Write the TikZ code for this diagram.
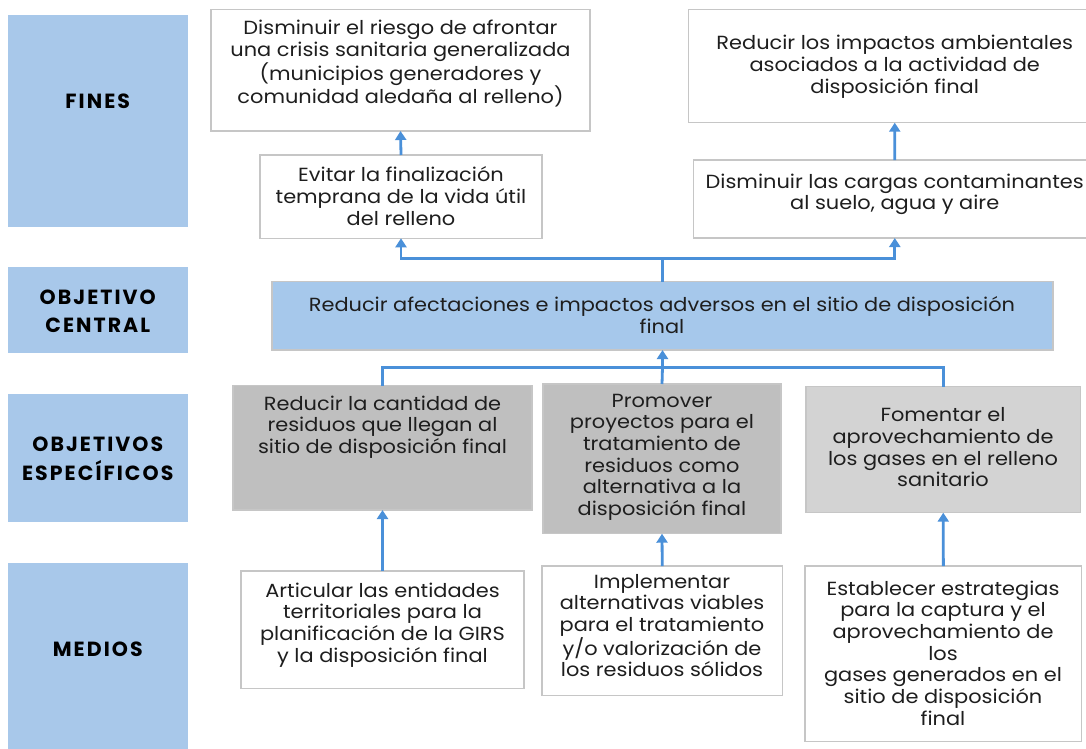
\documentclass[tikz,border=0pt]{standalone}
\usepackage{fontspec}
\setmainfont{Poppins}[FakeStretch=1.1]
\newfontfamily\labelfont{Poppins}[LetterSpace=10]
\usetikzlibrary{arrows.meta}
\definecolor{lblue}{HTML}{A8C8EA}
\definecolor{cblue}{HTML}{A6C8EB}
\definecolor{lineblue}{HTML}{4A90D9}
\definecolor{bordergray}{HTML}{C6C6C6}
\definecolor{gdark}{HTML}{BFBFBF}
\definecolor{glight}{HTML}{D3D3D3}
\definecolor{txtc}{HTML}{1E1E1E}
\tikzset{
  every node/.style={inner sep=0pt, outer sep=0pt},
  lbox/.style={fill=lblue, anchor=north west},
  wbox/.style={draw=bordergray, line width=1.2pt, fill=white, anchor=north west},
  cbox/.style={draw=bordergray, line width=1.2pt, fill=cblue, anchor=north west},
  dbox/.style={draw=bordergray, line width=1.2pt, fill=gdark, anchor=north west},
  ebox/.style={draw=bordergray, line width=1.2pt, fill=glight, anchor=north west},
  txt/.style={align=center, anchor=north, text=txtc, font=\fontsize{19}{21.7}\selectfont},
  lbl/.style={align=center, anchor=north, text=black, font=\labelfont\bfseries\fontsize{20.5}{28.5}\selectfont},
  conn/.style={draw=lineblue, line width=2.8pt},
  arr/.style={conn, -{Triangle[width=11pt,length=9pt]}},
}
\begin{document}
\begin{tikzpicture}[x=1pt, y=-1pt]
\useasboundingbox (0,0) rectangle (1086,748);
\clip (0,0) rectangle (1086,748);
\fill[white] (0,0) rectangle (1086,748);

% left labels
\node[lbox, minimum width=179.5, minimum height=212] (lF) at (8,15) {};
\node[lbox, minimum width=179.5, minimum height=86] (lC) at (8,267.3) {};
\node[lbox, minimum width=179.5, minimum height=127.4] (lS) at (8,394.3) {};
\node[lbox, minimum width=179.5, minimum height=200] (lM) at (8,562.7) {};
\node[lbl] (lFt) at (97.75,88.35) {\strut FINES\strut};
\node[lbl] (lCt) at (97.75,284.05) {\strut OBJETIVO\\CENTRAL\strut};
\node[lbl] (lSt) at (97.75,431.05) {\strut OBJETIVOS\\ESPECÍFICOS\strut};
\node[lbl] (lMt) at (97.75,636.05) {\strut MEDIOS\strut};

% fines
\node[wbox, minimum width=379, minimum height=121.7] (fA) at (211,9.3) {};
\node[wbox, minimum width=412.5, minimum height=113.4] (fB) at (688.5,9.3) {};
\node[wbox, minimum width=282, minimum height=83.3] (mF1) at (260,155) {};
\node[wbox, minimum width=402.4, minimum height=78] (mF2) at (693.6,160) {};
\node[txt] (fAt) at (400.5,19.3) {\strut Disminuir el riesgo de afrontar\\una crisis sanitaria generalizada\\(municipios generadores y\\comunidad aledaña al relleno)\strut};
\node[txt] (fBt) at (894.7,34.8) {\strut Reducir los impactos ambientales\\asociados a la actividad de\\disposición final\strut};
\node[txt] (mF1t) at (401,166.8) {\strut Evitar la finalización\\temprana de la vida útil\\del relleno\strut};
\node[txt] (mF2t) at (894.7,173.1) {\strut Disminuir las cargas contaminantes\\al suelo, agua y aire\strut};

% central
\node[cbox, minimum width=781, minimum height=68.3] (cen) at (272,281.7) {};
\node[txt] (cent) at (662,296.5) {\strut Reducir afectaciones e impactos adversos en el sitio de disposición\\final\strut};

% especificos
\node[dbox, minimum width=299, minimum height=124.3] (s1) at (233,385.7) {};
\node[dbox, minimum width=238, minimum height=149.7] (s2) at (543,384) {};
\node[ebox, minimum width=274.5, minimum height=126] (s3) at (806,386.7) {};
\node[txt] (s1t) at (382.5,394.8) {\strut Reducir la cantidad de\\residuos que llegan al\\sitio de disposición final\strut};
\node[txt] (s2t) at (662,391.8) {\strut Promover\\proyectos para el\\tratamiento de\\residuos como\\alternativa a la\\disposición final\strut};
\node[txt] (s3t) at (943,406.5) {\strut Fomentar el\\aprovechamiento de\\los gases en el relleno\\sanitario\strut};

% medios
\node[wbox, minimum width=283, minimum height=117.3] (m1) at (241,571) {};
\node[wbox, minimum width=240.5, minimum height=129.7] (m2) at (542,566) {};
\node[wbox, minimum width=276.7, minimum height=175.7] (m3) at (805,566) {};
\node[txt] (m1t) at (382.5,581.8) {\strut Articular las entidades\\territoriales para la\\planificación de la GIRS\\y la disposición final\strut};
\node[txt] (m2t) at (662,572.8) {\strut Implementar\\alternativas viables\\para el tratamiento\\y/o valorización de\\los residuos sólidos\strut};
\node[txt] (m3t) at (943,579.8) {\strut Establecer estrategias\\para la captura y el\\aprovechamiento de\\los\\gases generados en el\\sitio de disposición\\final\strut};

% connectors
\coordinate (jT) at (cen.north |- 0,258.3);
\coordinate (jB) at (cen.south |- 0,367.3);
\draw[conn] (cen.north) -- (jT);
\draw[arr] (jT) -| (mF1.south);
\draw[arr] (jT) -| (mF2.south);
\draw[arr] (mF1.north) -- (fA.south);
\draw[arr] (mF2.north) -- (fB.south);
\draw[conn] (s1.north) |- (jB) -| (s3.north);
\draw[conn] (s2.north) -- (jB);
\draw[arr] (jB) -- (cen.south);
\draw[arr] (m1.north) -- (s1.south);
\draw[arr] (m2.north) -- (s2.south);
\draw[arr] (m3.north) -- (s3.south);
\end{tikzpicture}
\end{document}
